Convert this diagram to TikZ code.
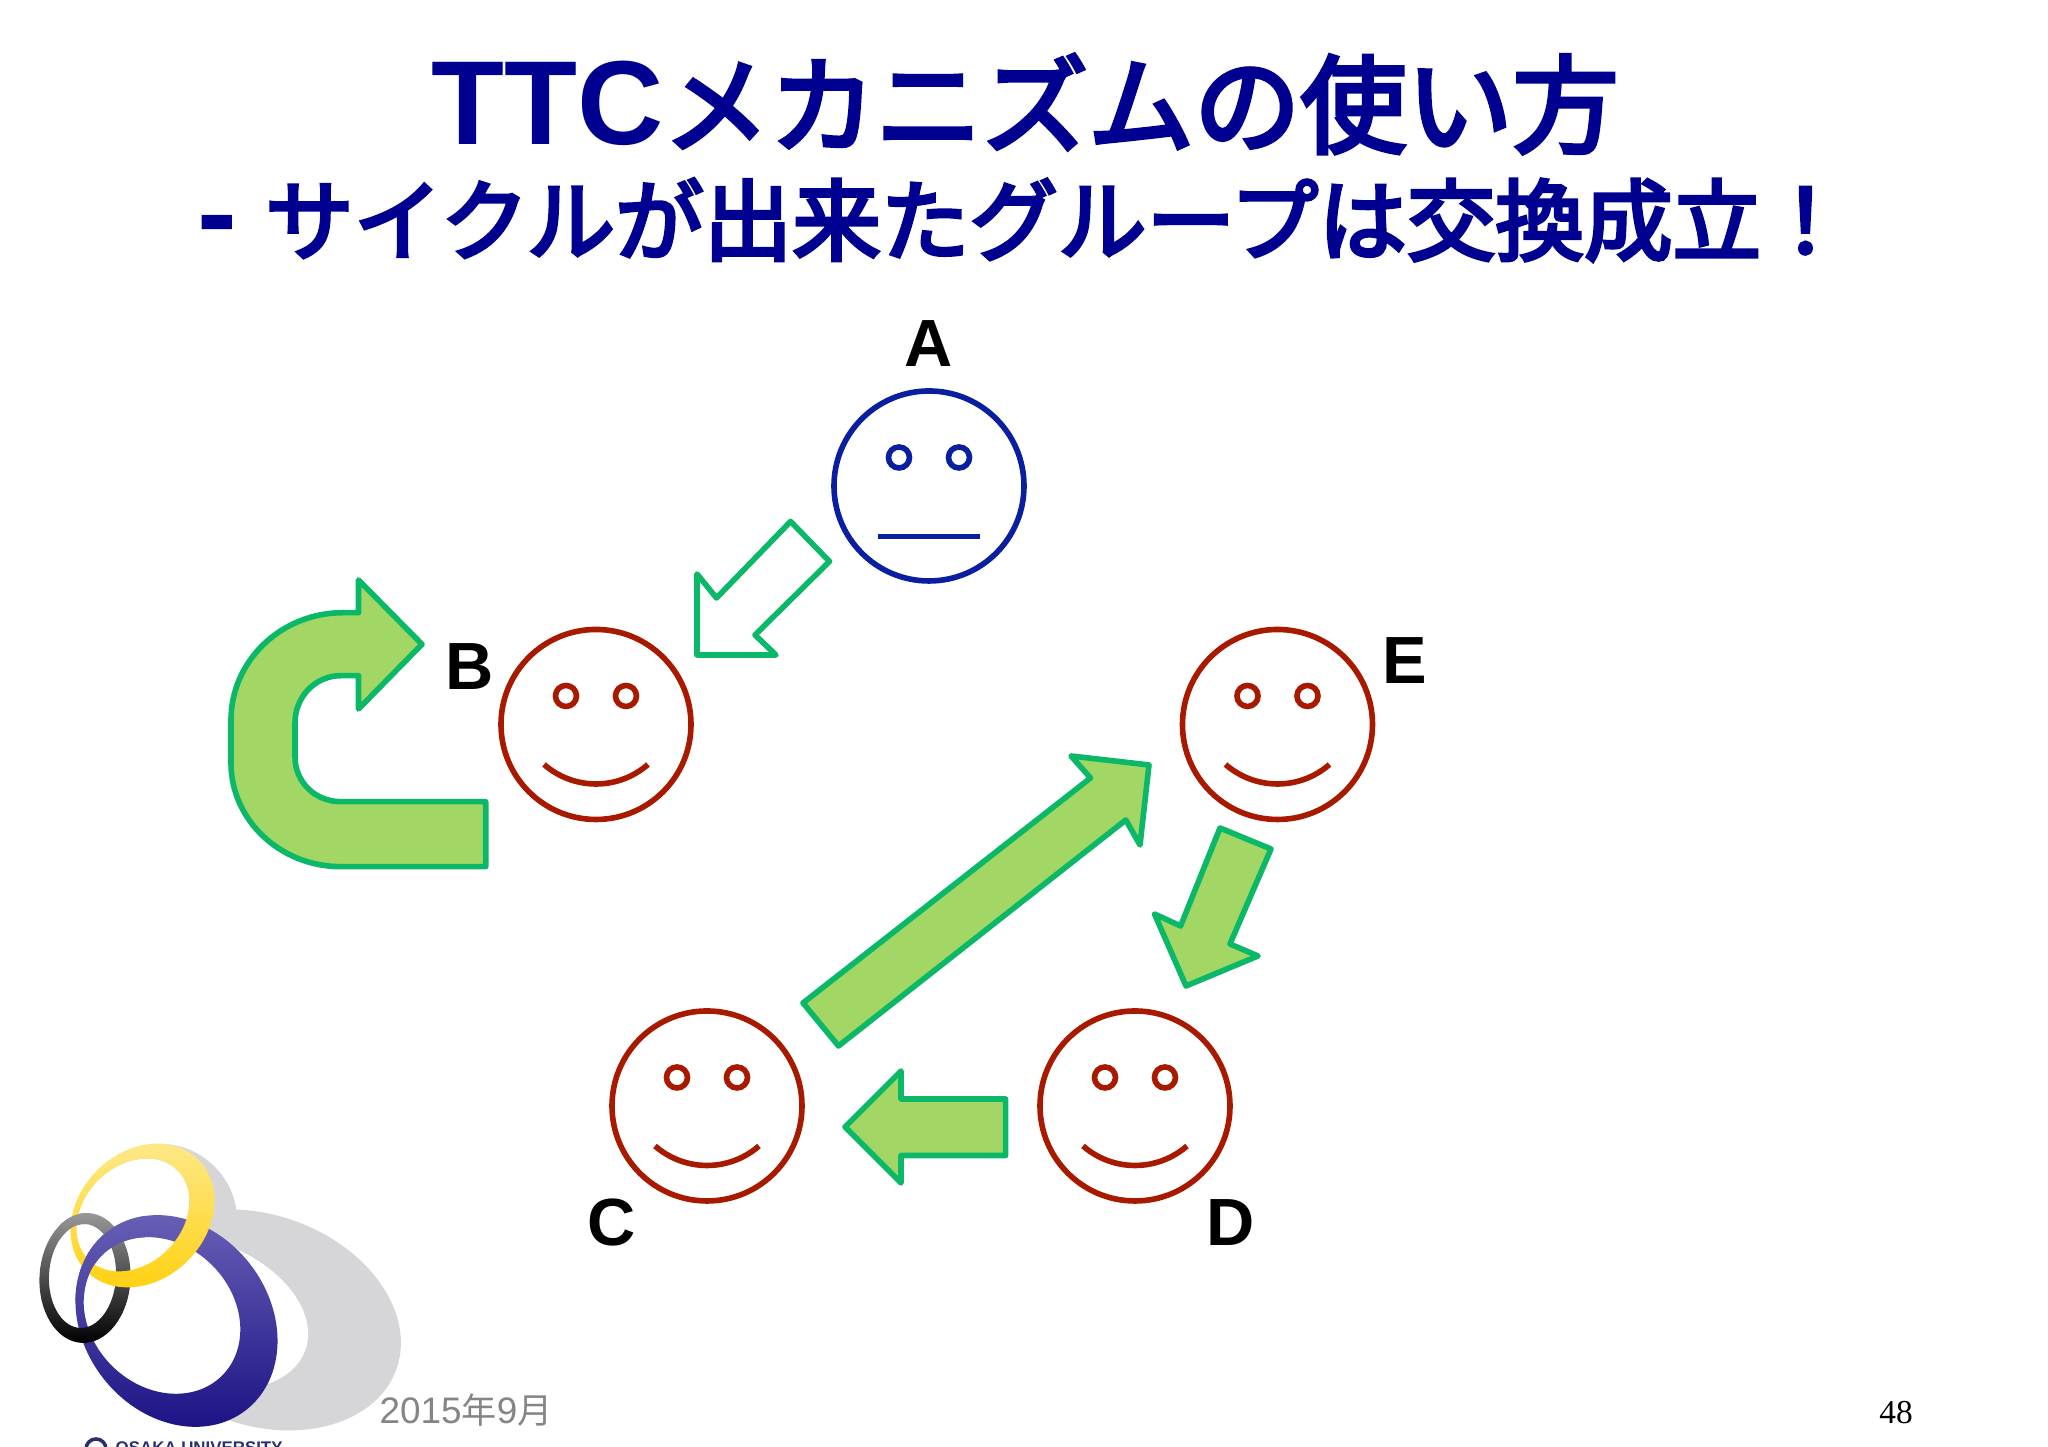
\documentclass[tikz,border=0pt]{standalone}
\usepackage{fontspec}
\usetikzlibrary{calc}
\setmainfont{Liberation Sans}
\newfontfamily\cjk{Noto Sans CJK JP}
\newfontfamily\cjkmid[FakeBold=4]{Noto Sans CJK JP}
\newfontfamily\serifnum{Liberation Serif}
\definecolor{titleblue}{HTML}{000090}
\definecolor{faceblue}{HTML}{0A1FA0}
\definecolor{facered}{HTML}{A81A00}
\definecolor{arrowline}{HTML}{0BB868}
\definecolor{arrowfill}{HTML}{A2D665}
\definecolor{shadowgrey}{HTML}{D6D6D8}
\definecolor{ringtop}{HTML}{6C64B8}
\definecolor{ringbottom}{HTML}{180E82}
\definecolor{goldtop}{HTML}{FDE98A}
\definecolor{goldbottom}{HTML}{FFD110}
\definecolor{osakablue}{HTML}{2A2F70}
\newcommand{\blueband}{(1.765,1.26) ellipse [x radius=1.13,y radius=.93,rotate=-52] (1.62,1.315) ellipse [x radius=.85,y radius=.71,rotate=-45]}
\newcommand{\yellowband}{(1.425,2.315) ellipse [x radius=.79,y radius=.64,rotate=45] (1.33,2.32) ellipse [x radius=.63,y radius=.49,rotate=45]}
\newcommand{\greyband}{(.85,1.69) ellipse [x radius=.455,y radius=.65,rotate=-3] (.825,1.71) ellipse [x radius=.335,y radius=.52,rotate=-3]}
\tikzset{
	face/.style={circle,draw,line width=1.6pt,minimum size=1.9cm,inner sep=0pt},
	facepart/.style={line width=1.6pt},
	letter/.style={font=\fontsize{19}{19}\selectfont\bfseries,inner sep=0pt},
	block/.style={draw=arrowline,line width=1.6pt,line join=round},
	solidblock/.style={block,fill=arrowfill},
	bluegrad/.style={even odd rule,top color=ringtop,bottom color=ringbottom},
	yellowgrad/.style={even odd rule,top color=goldtop,bottom color=goldbottom},
	greygrad/.style={even odd rule,top color=black!40,bottom color=black},
}
\begin{document}
\begin{tikzpicture}
\useasboundingbox (0,0) rectangle (20.48,14.47);

% titles
\node[text=titleblue,inner sep=0pt] (title) at (10.25,13.43) {\fontsize{34}{34}\selectfont\bfseries TTC{\cjkmid\mdseries\fontsize{30.2}{30.2}\selectfont メカニズムの使い方}};
\node[text=titleblue,inner sep=0pt] (subtitle) at (10.235,12.27) {\fontsize{34}{34}\selectfont\bfseries -\hspace{8pt}{\cjkmid\mdseries\fontsize{25.2}{25.2}\selectfont サイクルが出来たグループは交換成立！}};

% faces
\node[face,draw=faceblue] (faceA) at (9.29,9.61) {};
\node[face,draw=facered] (faceB) at (5.96,7.225) {};
\node[face,draw=facered] (faceC) at (7.07,3.41) {};
\node[face,draw=facered] (faceD) at (11.35,3.41) {};
\node[face,draw=facered] (faceE) at (12.775,7.225) {};

\draw[faceblue,facepart] ($(faceA)+(-.30,.285)$) circle (.105);
\draw[faceblue,facepart] ($(faceA)+(.30,.285)$) circle (.105);
\draw[faceblue,facepart] ($(faceA)+(-.51,-.505)$) -- ($(faceA)+(.51,-.505)$);

\foreach \f in {faceB,faceC,faceD,faceE}{
	\draw[facered,facepart] ($(\f)+(-.30,.285)$) circle (.105);
	\draw[facered,facepart] ($(\f)+(.30,.285)$) circle (.105);
	\draw[facered,facepart] ($(\f)+(-.52,-.40)$) .. controls ($(\f)+(-.22,-.66)$) and ($(\f)+(.22,-.66)$) .. ($(\f)+(.52,-.40)$);
}

% letters
\node[letter] (A) at (9.29,11.03) {A};
\node[letter] (B) at (4.70,7.80) {B};
\node[letter] (E) at (14.05,7.86) {E};
\node[letter] (C) at (6.12,2.24) {C};
\node[letter] (D) at (12.31,2.24) {D};

% block arrows
\draw[block] (7.906,9.255) -- (8.295,8.855) -- (7.55,8.12) -- (7.76,7.92) -- (6.97,7.92) -- (6.97,8.73) -- (7.165,8.49) -- cycle;
\draw[solidblock] (4.857,6.453) -- (4.857,5.803) -- (3.41,5.803) .. controls (2.80,5.803) and (2.31,6.27) .. (2.31,6.84) -- (2.31,7.27) .. controls (2.31,7.86) and (2.81,8.343) .. (3.43,8.343) -- (3.585,8.343) -- (3.585,8.67) -- (4.22,8.027) -- (3.585,7.38) -- (3.585,7.713) -- (3.41,7.713) .. controls (3.15,7.713) and (2.95,7.50) .. (2.95,7.24) -- (2.95,6.903) .. controls (2.95,6.65) and (3.15,6.453) .. (3.41,6.453) -- cycle;
\draw[solidblock] (8.03,4.44) -- (8.385,4.01) -- (11.258,6.27) -- (11.40,6.02) -- (11.49,6.82) -- (10.71,6.91) -- (10.905,6.69) -- cycle;
\draw[solidblock] (12.20,6.19) -- (12.71,5.98) -- (12.30,5.03) -- (12.58,4.91) -- (11.86,4.61) -- (11.545,5.33) -- (11.806,5.21) -- cycle;
\draw[solidblock] (10.056,3.48) -- (10.056,2.915) -- (9.01,2.915) -- (9.01,2.64) -- (8.45,3.20) -- (9.01,3.76) -- (9.01,3.48) -- cycle;

% logo shadow
\fill[shadowgrey] (2.6,1.27) ellipse [x radius=1.45,y radius=1.05,rotate=-20];
\fill[shadowgrey] (1.65,2.31) ellipse [x radius=.70,y radius=.74,rotate=45];
\fill[white] (2.0,1.35) ellipse [x radius=1.12,y radius=.72,rotate=-20];
\fill[white] (1.62,1.315) ellipse [x radius=.85,y radius=.71,rotate=-45];
\fill[white] (1.33,2.32) ellipse [x radius=.63,y radius=.49,rotate=45];

% logo rings
\shade[bluegrad] \blueband;
\shade[greygrad] \greyband;
\shade[yellowgrad] \yellowband;
\begin{scope}
	\clip (.60,1.47) rectangle (1.45,2.32);
	\shade[bluegrad] \blueband;
\end{scope}
\begin{scope}
	\clip (.60,2.07) rectangle (.85,2.42);
	\shade[greygrad] \greyband;
\end{scope}

% footer
\node[text=black!48,inner sep=0pt] (date) at (4.66,.37) {\fontsize{10.5}{10.5}\selectfont 2015{\cjk\fontsize{10}{10}\selectfont 年}9{\cjk\fontsize{10}{10}\selectfont 月}};
\node[inner sep=0pt] (page) at (18.96,.34) {\fontsize{9.5}{9.5}\selectfont\serifnum 48};
\draw[osakablue,line width=1pt] (.96,-.02) circle (.10);
\node[anchor=base west,inner sep=0pt,text=osakablue] (osaka) at (1.15,-.07) {\fontsize{4.8}{4.8}\selectfont\bfseries OSAKA UNIVERSITY};
\end{tikzpicture}
\end{document}
